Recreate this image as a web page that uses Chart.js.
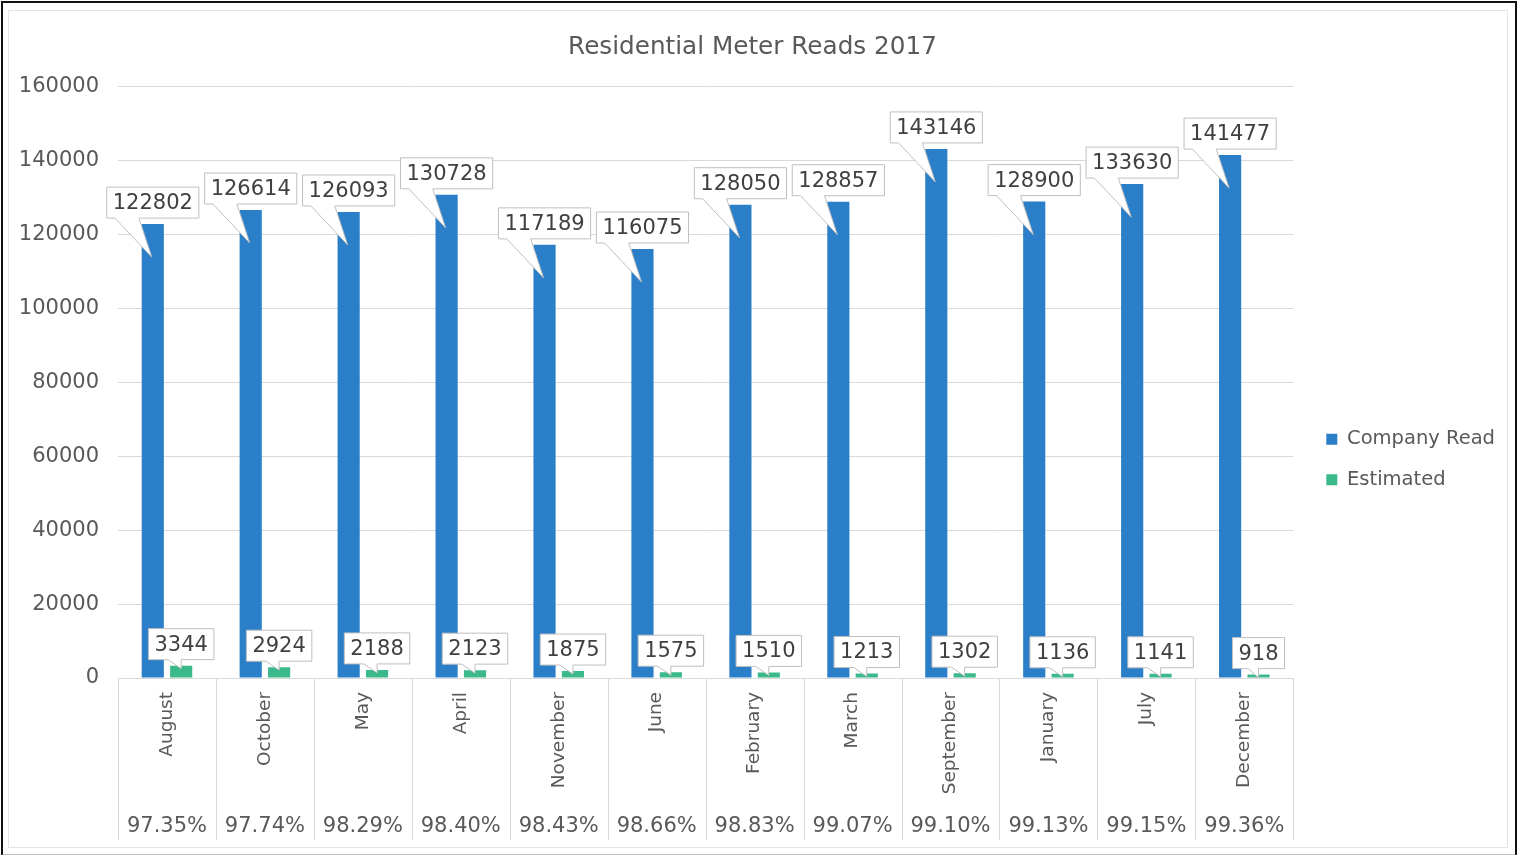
<!DOCTYPE html>
<html>
<head>
<meta charset="utf-8">
<script src="https://cdn.jsdelivr.net/npm/chart.js@4.4.0/dist/chart.umd.min.js"></script>
<style>
  html, body { margin: 0; padding: 0; background: #fff; }
  #wrap { position: relative; width: 1517px; height: 855px; }
  #chartCanvas { position: absolute; left: 0; top: 0; }
  .frameOuter { position: absolute; left: 1px; top: 1px; width: 1512px; height: 851px;
    border: 2px solid #111; border-bottom: 2px solid #bbb; pointer-events: none; }
  .frameInner { position: absolute; left: 8px; top: 10px; width: 1498px; height: 836px;
    border: 1px solid #e4e4e4; pointer-events: none; }
</style>
</head>
<body>
<div id="wrap">
  <canvas id="chartCanvas" width="1517" height="855"></canvas>
  <div class="frameOuter"></div>
  <div class="frameInner"></div>
</div>
<script>
// dados do grafico
const months = ["August", "October", "May", "April", "November", "June",
  "February", "March", "September", "January", "July", "December"];
const companyRead = [122802, 126614, 126093, 130728, 117189, 116075,
  128050, 128857, 143146, 128900, 133630, 141477];
const estimated = [3344, 2924, 2188, 2123, 1875, 1575, 1510, 1213, 1302, 1136, 1141, 918];
const readPercent = ["97.35%", "97.74%", "98.29%", "98.40%", "98.43%", "98.66%",
  "98.83%", "99.07%", "99.10%", "99.13%", "99.15%", "99.36%"];
const yTicks = { min: 0, max: 160000, step: 20000 };

const FONT = '"DejaVu Sans", sans-serif';
const TEXT = "#595959";
const GRID = "#d9d9d9";

// balões com os valores
const callouts = {
  id: "callouts",
  afterDatasetsDraw(chart) {
    const ctx = chart.ctx;
    ctx.save();
    ctx.font = "21px " + FONT;
    chart.data.datasets.forEach((ds, di) => {
      const meta = chart.getDatasetMeta(di);
      meta.data.forEach((bar, i) => {
        const text = String(ds.data[i]);
        const w = ctx.measureText(text).width + 12;
        const h = 31;
        const left = bar.x - w / 2;
        const bottom = bar.y - 6;
        const top = bottom - h;
        let wl, wr, tx, ty;
        if (di === 0) {
          wl = left + w * 0.09; wr = left + w * 0.35;
          tx = bar.x - 1; ty = bar.y + 33;
        } else {
          wl = left + w * 0.3; wr = left + w * 0.5;
          tx = bar.x; ty = bar.y + 3;
        }
        ctx.beginPath();
        ctx.moveTo(left, top);
        ctx.lineTo(left + w, top);
        ctx.lineTo(left + w, bottom);
        ctx.lineTo(wr, bottom);
        ctx.lineTo(tx, ty);
        ctx.lineTo(wl, bottom);
        ctx.lineTo(left, bottom);
        ctx.closePath();
        ctx.fillStyle = "#ffffff";
        ctx.fill();
        ctx.strokeStyle = "#bfbfbf";
        ctx.lineWidth = 1;
        ctx.stroke();
        ctx.fillStyle = "#404040";
        ctx.textAlign = "center";
        ctx.textBaseline = "middle";
        ctx.fillText(text, bar.x, top + h / 2 + 1);
      });
    });
    ctx.restore();
  },
};

// linhas verticais da tabela embaixo
const tableLines = {
  id: "tableLines",
  afterDraw(chart) {
    const x = chart.scales.x;
    const x2 = chart.scales.x2;
    const ctx = chart.ctx;
    const n = months.length;
    ctx.save();
    ctx.strokeStyle = GRID;
    ctx.lineWidth = 1;
    for (let i = 0; i <= n; i++) {
      const px = Math.round(x.left + (i * x.width) / n) + 0.5;
      ctx.beginPath();
      ctx.moveTo(px, chart.chartArea.bottom);
      ctx.lineTo(px, x2.bottom - 8);
      ctx.stroke();
    }
    ctx.restore();
  },
};

const grafico = document.getElementById("chartCanvas").getContext("2d");

new Chart(grafico, {
  type: "bar",
  data: {
    labels: months,
    datasets: [
      {
        label: "Company Read",
        data: companyRead,
        backgroundColor: "#2a7fc8",
        categoryPercentage: 0.58,
        barPercentage: 0.78,
      },
      {
        label: "Estimated",
        data: estimated,
        backgroundColor: "#3cb98b",
        categoryPercentage: 0.58,
        barPercentage: 0.78,
      },
    ],
  },
  options: {
    responsive: false,
    animation: false,
    layout: { padding: { top: 33, right: 12, bottom: 7, left: 0 } },
    scales: {
      y: {
        min: yTicks.min,
        max: yTicks.max,
        ticks: {
          stepSize: yTicks.step,
          color: TEXT,
          font: { family: FONT, size: 21 },
          padding: 19,
          callback: (value) => String(value),
        },
        grid: { color: GRID, drawTicks: false },
        border: { display: false },
        afterFit(s) { s.width = 118; },
      },
      // espaço entre o grafico e a legenda
      gap: {
        type: "linear",
        position: "right",
        grid: { display: false, drawTicks: false },
        border: { display: false },
        ticks: { display: false },
        afterFit(s) { s.width = 12; },
      },
      x: {
        weight: 0,
        grid: { display: false, drawTicks: false },
        border: { display: true, color: GRID },
        ticks: {
          color: TEXT,
          font: { family: FONT, size: 18.5 },
          minRotation: 90,
          maxRotation: 90,
          autoSkip: false,
          padding: 14,
        },
        afterFit(s) { s.height = 130; },
      },
      x2: {
        type: "category",
        labels: readPercent,
        position: "bottom",
        weight: 1,
        offset: true,
        grid: { display: false, drawTicks: false },
        border: { display: false },
        ticks: { color: TEXT, font: { family: FONT, size: 21 }, padding: 6, maxRotation: 0, autoSkip: false },
        afterFit(s) { s.height = 40; },
      },
    },
    plugins: {
      title: {
        display: true,
        text: "Residential Meter Reads 2017",
        color: TEXT,
        font: { family: FONT, size: 24.7, weight: "normal" },
        padding: { top: 0, bottom: 24 },
      },
      legend: {
        position: "right",
        title: { display: true, text: " ", font: { size: 10 }, padding: { top: 13, bottom: 13 } },
        labels: {
          color: TEXT,
          font: { family: FONT, size: 19.5 },
          boxWidth: 11,
          boxHeight: 11,
          padding: 21,
        },
      },
      tooltip: { enabled: false },
    },
  },
  plugins: [callouts, tableLines],
});
</script>
</body>
</html>
